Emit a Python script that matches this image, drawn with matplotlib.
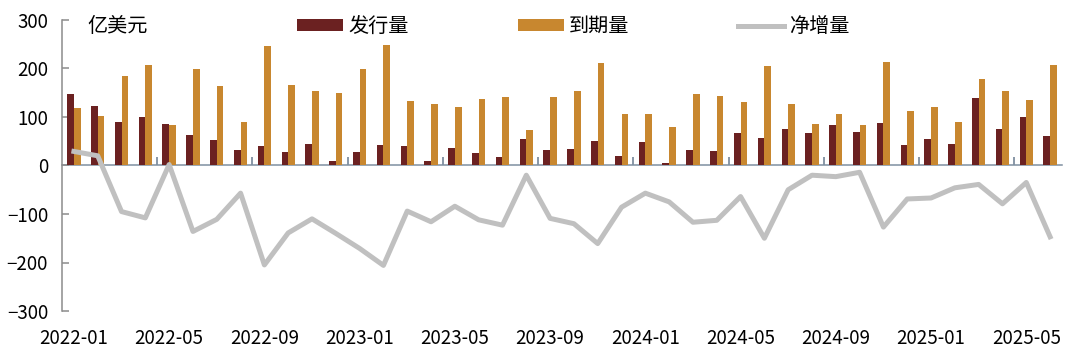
import numpy as np
import matplotlib.pyplot as plt

plt.rcParams['font.family'] = ['Noto Sans CJK SC', 'DejaVu Sans']
plt.rcParams['axes.unicode_minus'] = True

# 2022-01 ~ 2025-06
months = [f'{y}-{m:02d}' for y in range(2022, 2026) for m in range(1, 13)][:42]

# 亿美元
issue = [148, 122, 90, 99, 86, 62, 52, 32, 41, 27, 44, 10,
         28, 43, 40, 10, 37, 25, 18, 54, 32, 34, 51, 20,
         49, 5, 31, 30, 66, 56, 76, 66, 83, 69, 87, 43,
         54, 44, 139, 75, 101, 60]
mature = [119, 102, 185, 207, 84, 198, 163, 89, 246, 166, 154, 150,
          199, 249, 134, 126, 121, 137, 141, 74, 141, 154, 212, 106,
          106, 80, 148, 143, 130, 206, 126, 86, 106, 83, 214, 112,
          121, 90, 178, 154, 136, 207]
net = [29, 20, -95, -108, 2, -136, -111, -57, -205, -139, -110, -140,
       -171, -206, -94, -116, -84, -112, -123, -20, -109, -120, -161, -86,
       -57, -75, -117, -113, -64, -150, -50, -20, -23, -14, -127, -69,
       -67, -46, -39, -79, -35, -147]

c_issue = '#6B2121'
c_mature = '#C8872F'
c_net = '#C0C0C0'
c_axis = '#7F8FA0'

fig = plt.figure(figsize=(10.8, 3.56), dpi=100)
ax = fig.add_axes([62/1080, 1-311/356, 1000/1080, 291/356])

x = np.arange(len(months))
b1 = ax.bar(x - 0.14, issue, 0.28, color=c_issue, label='发行量', zorder=2)
b2 = ax.bar(x + 0.14, mature, 0.28, color=c_mature, label='到期量', zorder=2)
l1, = ax.plot(x, net, color=c_net, lw=3.6, label='净增量', zorder=3,
              solid_joinstyle='round')

ax.set_xlim(-0.5, len(months) - 0.5)
ax.set_ylim(-300, 300)
ax.set_yticks(range(-300, 301, 100))
ax.set_xticks(x[::4])
ax.set_xticklabels(months[::4])

for s in ['top', 'right', 'bottom']:
    ax.spines[s].set_visible(False)
ax.spines['left'].set_color('#8C8C8C')
ax.spines['left'].set_linewidth(1.1)
ax.tick_params(axis='y', direction='in', length=5, width=1.1, color='#8C8C8C',
               labelsize=13.5, pad=10)
ax.tick_params(axis='x', length=0, labelsize=13.5, pad=12)

# 零轴及分组刻度
zero = ax.secondary_xaxis(0.5)
zero.spines['top'].set_color(c_axis)
zero.spines['top'].set_linewidth(1.1)
zero.set_xticks(np.arange(3.5, len(months) - 1, 4))
zero.tick_params(direction='out', length=6, width=1.3, color=c_axis,
                 labeltop=False, labelbottom=False)

fig.text(87/1080, 1 - 27/356, '亿美元', fontsize=14.5, va='center')

fig.legend([b1, b2, l1], ['发行量', '到期量', '净增量'], ncol=3, loc='center',
           bbox_to_anchor=(0.531, 0.925), frameon=False, fontsize=14.5,
           handlelength=2.3, handleheight=0.55, handletextpad=0.25,
           columnspacing=5.4)

fig.savefig('out.png', dpi=100)
